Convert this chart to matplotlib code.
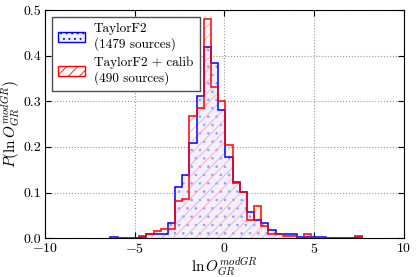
import numpy as np
import matplotlib
matplotlib.use("Agg")
import matplotlib.pyplot as plt
from matplotlib.patches import Patch

plt.rcParams['font.family'] = 'serif'
plt.rcParams['font.serif'] = ['cmr10']
plt.rcParams['mathtext.fontset'] = 'cm'
plt.rcParams['axes.formatter.use_mathtext'] = True
plt.rcParams['hatch.linewidth'] = 0.6

# bin edges (width 0.4) shared by both histograms
bin_edges = np.round(np.arange(-6.35, 7.66, 0.4), 2)

# normalised bin heights
taylorf2 = [0.0017, 0, 0, 0, 0.0017, 0.0085, 0.0085, 0.0101, 0.0338, 0.113,
            0.139, 0.208, 0.312, 0.418, 0.384, 0.281, 0.179, 0.124, 0.101, 0.057,
            0.040, 0.033, 0.018, 0.0101, 0.0101, 0.0101, 0.0034, 0.0017, 0.0017, 0.0017,
            0, 0, 0, 0, 0.0017]
taylorf2_calib = [0, 0, 0, 0, 0.0051, 0.0102, 0.0153, 0.0204, 0.0204, 0.082,
                  0.087, 0.267, 0.286, 0.480, 0.332, 0.301, 0.204, 0.122, 0.102, 0.041,
                  0.071, 0.026, 0.010, 0.0102, 0.0051, 0.0051, 0, 0.0102, 0, 0,
                  0, 0, 0, 0, 0.0051]

labels = ['TaylorF2\n(1479 sources)', 'TaylorF2 + calib\n(490 sources)']

fig = plt.figure(figsize=(4.16, 2.77), dpi=100)
ax = fig.add_axes([0.108, 0.140, 0.863, 0.824])

# hatched fills
ax.stairs(taylorf2, bin_edges, fill=True, facecolor=(0.94, 0.94, 1.0),
          edgecolor=(0.6, 0.6, 1.0), hatch='..', linewidth=0, zorder=2)
ax.stairs(taylorf2_calib, bin_edges, fill=True, facecolor='none',
          edgecolor=(1.0, 0.65, 0.65), hatch='///', linewidth=0, zorder=3)
# outlines
ax.stairs(taylorf2, bin_edges, color='b', linewidth=1.1, zorder=4)
ax.stairs(taylorf2_calib, bin_edges, color='r', linewidth=1.3, alpha=0.85, zorder=5)

ax.set_xlim(-10, 10)
ax.set_ylim(0, 0.5)
ax.set_xticks([-10, -5, 0, 5, 10])
ax.set_yticks([0.0, 0.1, 0.2, 0.3, 0.4, 0.5])
ax.set_yticklabels(['0.0', '0.1', '0.2', '0.3', '0.4', '0.5'])
ax.tick_params(direction='in', top=True, right=True, labelsize=10, length=4, pad=2.5)
ax.grid(True, linestyle=':', color='0.6', linewidth=0.8, zorder=0)
ax.set_axisbelow(True)

ax.set_xlabel(r'$\ln O_{GR}^{modGR}$', fontsize=11)
ax.xaxis.set_label_coords(0.5, -0.074)
ax.set_ylabel(r'$P(\ln O_{GR}^{modGR})$', fontsize=11)
ax.yaxis.set_label_coords(-0.064, 0.5)

handles = [Patch(facecolor=(0.94, 0.94, 1.0), edgecolor='b', hatch='...', linewidth=1),
           Patch(facecolor='none', edgecolor='r', hatch='///', linewidth=1)]
leg = ax.legend(handles, labels, loc='upper left', fontsize=9.5, fancybox=False,
                framealpha=1, edgecolor='0.3', handlelength=2.0, handleheight=0.8,
                handletextpad=0.7, borderaxespad=0.5, labelspacing=0.4, borderpad=0.5)
leg.get_frame().set_linewidth(1.0)

fig.savefig('out.png', dpi=100)
